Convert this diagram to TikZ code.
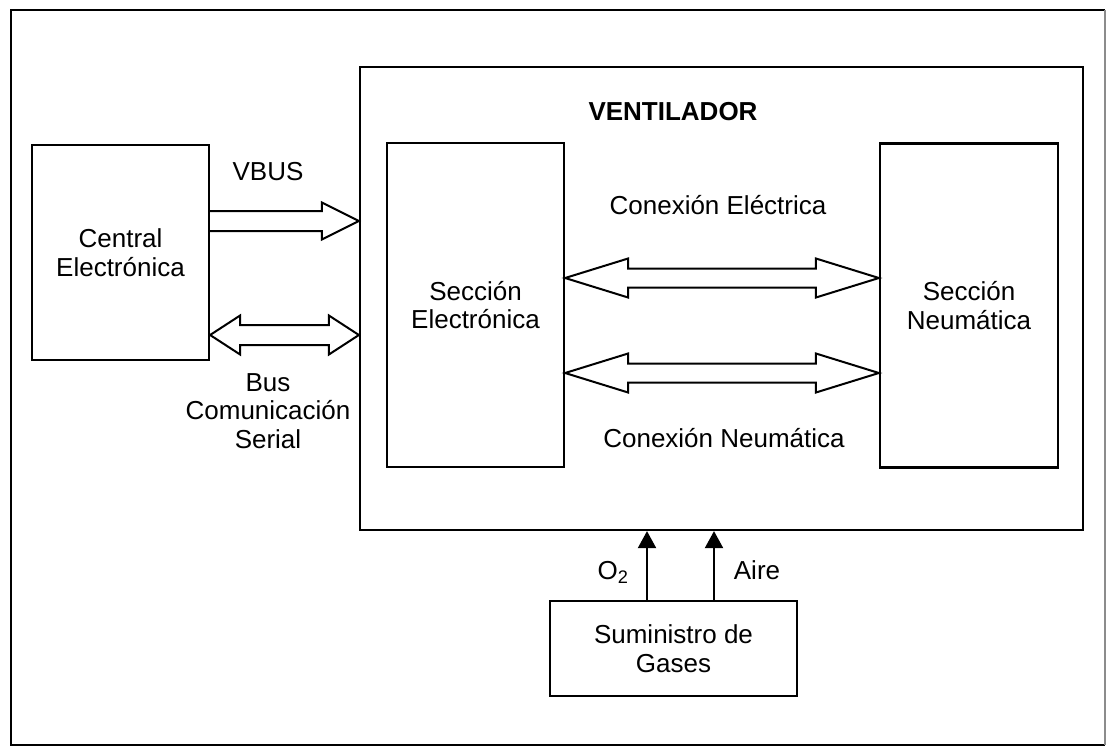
\documentclass[tikz,border=0pt]{standalone}
\usepackage{fontspec}
\setmainfont{Liberation Sans}
\usetikzlibrary{calc,arrows.meta}

% Hollow block arrow with a head at both ends:
% #1 left tip, #2 right tip, #3 half shaft width, #4 half head width, #5 head length
\newcommand\dblblock[5]{%
  \draw[barrow] let \p1=(#1), \p2=(#2) in
    (\x1,\y1) -- (\x1+#5,\y1+#4) -- (\x1+#5,\y1+#3) -- (\x2-#5,\y2+#3)
    -- (\x2-#5,\y2+#4) -- (\x2,\y2) -- (\x2-#5,\y2-#4) -- (\x2-#5,\y2-#3)
    -- (\x1+#5,\y1-#3) -- (\x1+#5,\y1-#4) -- cycle;}
% Hollow block arrow with a single head at the right end
\newcommand\sglblock[5]{%
  \draw[barrow] let \p1=(#1), \p2=(#2) in
    (\x1,\y1+#3) -- (\x2-#5,\y2+#3) -- (\x2-#5,\y2+#4) -- (\x2,\y2)
    -- (\x2-#5,\y2-#4) -- (\x2-#5,\y2-#3) -- (\x1,\y1-#3);}

\begin{document}
\begin{tikzpicture}[x=1pt,y=-1pt,
  every node/.style={font=\fontsize{26}{28.5}\selectfont},
  box/.style={draw, line width=2.2pt, inner sep=0pt, align=center},
  lbl/.style={align=center, inner sep=0pt},
  barrow/.style={line width=2pt, line join=miter},
  gas/.style={line width=2pt, -{Triangle[length=17pt,width=18pt]}},
  frame/.style={line width=2.2pt}]
\useasboundingbox (0,0) rectangle (1107,747);

% outer frame
\draw[frame] (1105,745) -- (11,745) -- (11,10) -- (1105,10);
\draw[frame, black!45] (1105,10) -- (1105,745);

% blocks
\node[box, minimum width=177pt, minimum height=215pt] (central) at (120.5,252.5) {Central\\Electrónica};
\node[box, minimum width=723pt, minimum height=463pt] (vent) at (721.5,298.5) {};
\node[box, minimum width=177pt, minimum height=324pt] (secE) at (475.5,305) {Sección\\Electrónica};
\node[box, minimum width=178pt, minimum height=324pt] (secN) at (969,305.5) {Sección\\Neumática};
\node[box, minimum width=247pt, minimum height=95pt] (sum) at (673.5,648.5) {Suministro de\\Gases};

% labels
\node[lbl, font=\fontsize{26}{28}\selectfont\bfseries] (title) at (673,112) {VENTILADOR};
\node[lbl] (vbus) at (268,172) {VBUS};
\node[lbl] (bus) at (268,411) {Bus\\Comunicación\\Serial};
\node[lbl] (celec) at (718,205) {Conexión Eléctrica};
\node[lbl] (cneu) at (724,438) {Conexión Neumática};
\node[lbl] (o2) at (613,572) {O\textsubscript{2}};
\node[lbl] (aire) at (757,570) {Aire};

% heights and positions of the connectors
\path (0,221) coordinate (yVbus) (0,335) coordinate (yBus)
      (0,278) coordinate (yElec) (0,373) coordinate (yNeu)
      (647,0) coordinate (xO) (714,0) coordinate (xAir);

% block arrows
\sglblock{central.east |- yVbus}{vent.west |- yVbus}{10pt}{18.5pt}{37pt}
\dblblock{central.east |- yBus}{vent.west |- yBus}{10pt}{19.5pt}{30pt}
\dblblock{secE.east |- yElec}{secN.west |- yElec}{9.5pt}{19.5pt}{63pt}
\dblblock{secE.east |- yNeu}{secN.west |- yNeu}{9.5pt}{19.5pt}{63pt}

% gas supply lines
\draw[gas] (sum.north -| xO) -- (vent.south -| xO);
\draw[gas] (sum.north -| xAir) -- (vent.south -| xAir);
\end{tikzpicture}
\end{document}
